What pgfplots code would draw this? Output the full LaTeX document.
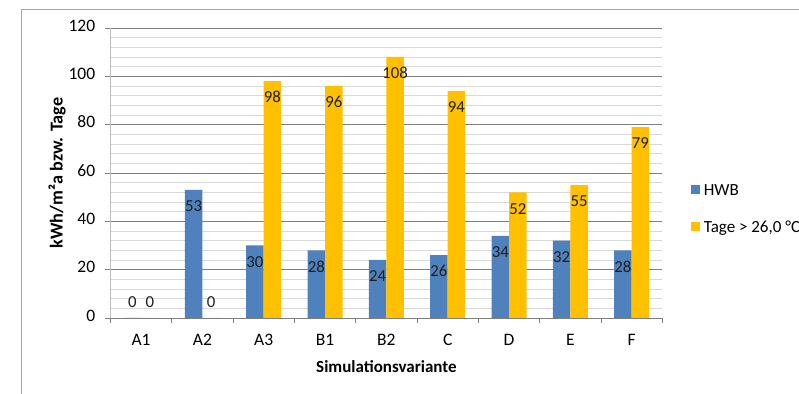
\documentclass[border=0pt]{standalone}
\usepackage{fontspec}
\setmainfont{Carlito}
\usepackage{pgfplots}
\pgfplotsset{compat=1.18}

\definecolor{hwbblue}{HTML}{4F81BD}
\definecolor{tagegold}{HTML}{FFC000}
\definecolor{gridmajor}{HTML}{7F7F7F}
\definecolor{gridminor}{HTML}{D9D9D9}
\definecolor{axisgray}{HTML}{BFBFBF}
\definecolor{framegray}{HTML}{A6A6A6}
\definecolor{labeltext}{HTML}{1F1F1F}

\begin{document}
\begin{tikzpicture}[x=1pt,y=1pt]
\useasboundingbox (0,0) rectangle (799,393);
% chart frame (only left and top edges lie inside the page)
\draw[framegray, line width=1pt] (21,-2) -- (21,383) -- (801,383);
\begin{axis}[
  at={(110.4pt,75pt)}, anchor=south west,
  scale only axis, width=552pt, height=290pt,
  font=\fontsize{17}{20}\selectfont,
  /pgf/number format/assume math mode=true,
  ybar=0pt, bar width=17.5pt,
  xmin=-0.5, xmax=8.5, ymin=0, ymax=120,
  % category boundaries carry the tick marks, centres carry the names
  xtick={-0.5,0.5,...,8.5},
  xticklabels={},
  extra x ticks={0,...,8},
  extra x tick labels={A1,A2,A3,B1,B2,C,D,E,F},
  extra x tick style={major tick length=0pt, grid=none},
  major tick length=5pt, tick align=outside,
  tick style={gridmajor, line width=0.8pt},
  ytick={0,20,...,120},
  minor y tick num=4,
  minor tick length=0pt,
  ymajorgrids, yminorgrids,
  major grid style={gridmajor, line width=0.9pt},
  minor grid style={gridminor, line width=0.9pt},
  axis x line*=bottom, axis y line*=left,
  x axis line style={gridmajor, line width=0.9pt, -},
  y axis line style={axisgray, line width=0.9pt, -},
  tick label style={font=\fontsize{17.5}{20}\selectfont},
  xticklabel style={anchor=center, inner sep=0pt, text height=0.644em, text depth=0pt, yshift=-24pt},
  yticklabel style={anchor=east, inner sep=0pt, text height=0.644em, text depth=0pt, xshift=-10pt},
  every axis y label/.style={at={(axis description cs:-0.0967,0.5)}, rotate=90, anchor=center,
    font=\fontsize{18.2}{21}\selectfont},
  every axis x label/.style={at={(axis description cs:0.5,-0.169)}, anchor=center},
  ylabel={\textbf{kWh/m²a bzw. Tage}},
  xlabel={\textbf{Simulationsvariante}},
  nodes near coords,
  visualization depends on={rawy \as \rawy},
  every node near coord/.append style={anchor=center, labeltext,
    font=\fontsize{16.8}{19}\selectfont,
    text height=0.644em, text depth=0pt,
    yshift={(\rawy==0)*32.5-18.5}},
  legend cell align=left,
  legend style={at={(axis description cs:1.052,0.376)}, anchor=west,
    draw=none, fill=none, inner sep=0pt, row sep=26pt,
    nodes={inner sep=0pt, text height=11pt, text depth=0pt},
    /tikz/every odd column/.style={column sep=3.5pt}},
]
\addplot[fill=hwbblue, draw=none,
  legend image code/.code={\fill[hwbblue] (0pt,-4pt) rectangle (9pt,5pt);}]
  coordinates {(0,0) (1,53) (2,30) (3,28) (4,24) (5,26) (6,34) (7,32) (8,28)};
\addlegendentry{HWB}
\addplot[fill=tagegold, draw=none,
  legend image code/.code={\fill[tagegold] (0pt,-4pt) rectangle (9pt,5pt);}]
  coordinates {(0,0) (1,0) (2,98) (3,96) (4,108) (5,94) (6,52) (7,55) (8,79)};
\addlegendentry{Tage > 26,0 °C}
\end{axis}
\end{tikzpicture}
\end{document}
